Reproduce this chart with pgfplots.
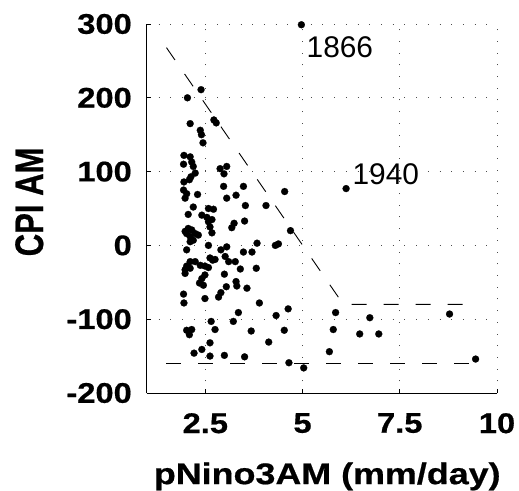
\documentclass[border=0pt]{standalone}
\usepackage{fontspec}
\setmainfont{Liberation Sans}
\newfontfamily\wideb[FakeStretch=1.15, FakeBold=0.6]{Liberation Sans}
\newfontfamily\widerb[FakeStretch=1.2, FakeBold=0.6]{Liberation Sans}
\newfontfamily\tallb[FakeStretch=0.78, FakeBold=0.6]{Liberation Sans}
\usepackage{pgfplots}
\pgfplotsset{compat=1.18}

\begin{document}
\begin{tikzpicture}
\begin{axis}[
    scale only axis,
    width=350bp, height=369bp,
    xmin=1, xmax=10, ymin=-200, ymax=300,
    axis lines*=left,
    axis line style={line width=1bp, black},
    tick align=inside,
    major tick length=4bp,
    tick style={black, line width=0.8bp},
    xtick={2.5,5,7.5,10},
    xticklabels={2.5,5,7.5,10},
    ytick={-200,-100,0,100,200,300},
    yticklabels={-200,-100,0,100,200,300},
    xticklabel style={font=\wideb\bfseries\fontsize{28.5}{30}\selectfont, anchor=north, inner sep=0pt, yshift=-20bp},
    yticklabel style={font=\wideb\bfseries\fontsize{28.5}{30}\selectfont, anchor=east, inner sep=0pt, xshift=-15bp},
    grid=major,
    major grid style={black!70, line width=0.8bp, dash pattern=on 1bp off 10.7bp},
    xlabel={pNino3AM (mm/day)},
    ylabel={CPI AM},
    xlabel style={font=\widerb\bfseries\fontsize{30}{32}\selectfont, at={(axis description cs:0.515,-0.247)}, anchor=base, inner sep=0pt},
    ylabel style={font=\tallb\bfseries\fontsize{40}{42}\selectfont, at={(axis description cs:-0.297,0.518)}, anchor=base, inner sep=0pt},
    clip=false,
]
\addplot[only marks, mark=*, mark size=3.5bp, mark options={fill=black, draw=black, line width=0.2bp}] coordinates {
(4.97,299) (6.12,77)
(2.39,211) (2.04,200) (2.72,170) (2.78,166) (2.11,165) (2.37,156) (2.40,150)
(2.44,139) (1.95,122) (2.11,120) (1.94,110) (2.15,113) (2.19,107) (2.24,98)
(2.88,104) (3.05,107) (2.98,97) (1.95,86) (2.09,89) (2.13,93) (1.94,75)
(2.97,80) (3.48,80) (4.54,73) (2.30,69) (3.05,64) (3.29,68)
(2.02,70) (1.98,64) (3.53,54) (4.06,54) (2.19,52) (2.58,50) (2.71,49)
(2.06,42) (2.41,41) (2.54,38) (2.67,35) (2.58,32) (2.62,25) (2.67,17)
(3.51,33) (3.24,30) (3.18,24) (4.69,20)
(1.98,19) (2.06,23) (2.15,21) (2.24,16) (2.32,14) (2.11,12) (2.19,7) (2.02,16) (2.11,5)
(3.83,3) (4.30,0) (4.38,2) (2.58,0) (3.05,-2) (2.90,-6) (3.48,-9) (3.70,-9) (2.02,-6)
(2.11,-22) (2.24,-22) (2.02,-28) (1.98,-33) (1.98,-38) (2.11,-31)
(2.37,-27) (2.49,-28) (2.58,-30) (2.62,-17) (2.75,-19) (2.69,-20)
(3.01,-15) (3.10,-22) (3.27,-22) (3.40,-32) (3.81,-31)
(2.49,-40) (2.41,-45) (2.35,-51) (2.45,-54) (2.99,-39) (3.29,-49) (3.31,-55)
(3.04,-56) (3.57,-58) (2.90,-64) (2.84,-70) (1.94,-66) (1.95,-78) (2.49,-72)
(3.89,-78) (3.35,-91) (4.63,-86) (4.32,-95) (2.65,-103) (3.22,-103)
(2.02,-115) (2.15,-114) (2.09,-121) (2.75,-114) (3.68,-116) (4.53,-115)
(4.13,-131) (2.62,-132) (2.41,-141) (2.21,-146) (2.62,-150) (2.99,-149) (3.51,-151)
(4.65,-159) (5.03,-166) (5.69,-144) (5.85,-91) (6.73,-98) (5.79,-114)
(6.47,-120) (6.96,-120) (8.78,-93) (9.45,-154)
};
\addplot[black, line width=0.9bp, dash pattern=on 15bp off 17bp] coordinates {(1.5,268) (6.05,-80) (9.3,-80)};
\addplot[black, line width=0.9bp, dash pattern=on 15bp off 17bp] coordinates {(1.5,-160) (9.4,-160)};
\node[anchor=base west, inner sep=0pt, font=\fontsize{30}{32}\selectfont] at (axis cs:5.10,254) {1866};
\node[anchor=base west, inner sep=0pt, font=\fontsize{30}{32}\selectfont] at (axis cs:6.28,82) {1940};
\path (rel axis cs:0,0) ++(-147bp,-96bp) rectangle ++(519bp,489bp);
\end{axis}
\end{tikzpicture}
\end{document}
